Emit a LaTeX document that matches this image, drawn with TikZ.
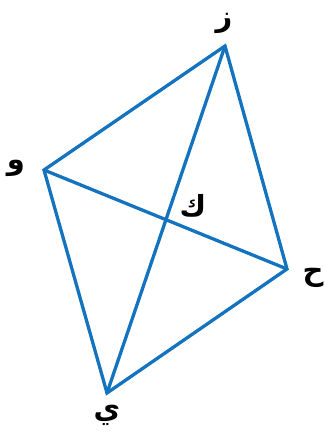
\documentclass[tikz,border=0pt]{standalone}
\usepackage{fontspec}
\newfontfamily\arabicfont[Script=Arabic]{DejaVu Sans}
\TeXXeTstate=1
\definecolor{edgeblue}{RGB}{20,115,190}
\tikzset{
  edge/.style={draw=edgeblue, line width=3.3pt, line join=miter},
  lbl/.style={font=\arabicfont\bfseries\fontsize{29}{29}\selectfont, inner sep=0pt, text=black}
}
\begin{document}
\begin{tikzpicture}[x=1pt,y=-1pt]
\useasboundingbox (0,0) rectangle (325,435);
\coordinate (Z) at (225,46);
\coordinate (W) at (44,170);
\coordinate (H) at (287,269);
\coordinate (Y) at (107,393);
\draw[edge] (Z) -- (W) -- (Y) -- (H) -- cycle;
\draw[edge] (Z) -- (Y);
\draw[edge] (W) -- (H);
\node[lbl] (lz) at (224,23) {\beginR ز\endR};
\node[lbl] (lw) at (16,168) {\beginR و\endR};
\node[lbl] (lk) at (193,206) {\beginR ك\endR};
\node[lbl] (lh) at (313,278) {\beginR ح\endR};
\node[lbl] (ly) at (107,415) {\beginR ي\endR};
\end{tikzpicture}
\end{document}
